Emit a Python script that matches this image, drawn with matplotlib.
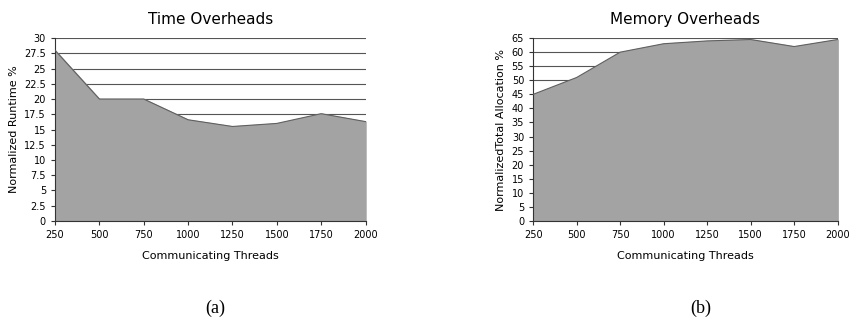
import numpy as np
import matplotlib
matplotlib.use('Agg')
import matplotlib.pyplot as plt

threads = [250, 500, 750, 1000, 1250, 1500, 1750, 2000]
runtime = [28.0, 20.0, 20.0, 16.6, 15.5, 16.0, 17.6, 16.3]
allocation = [45.0, 51.0, 60.0, 63.0, 64.0, 64.5, 62.0, 64.5]

time_ticks = np.arange(0, 30.1, 2.5)
mem_ticks = np.arange(0, 65.1, 5)

fig = plt.figure(figsize=(8.53, 3.23), dpi=100)
ax1 = fig.add_axes([0.0645, 0.316, 0.364, 0.566])
ax2 = fig.add_axes([0.625, 0.316, 0.357, 0.566])


def draw(ax, y, ticks, title, ylabel, ytop):
    for t in ticks:
        ax.axhline(t, color='#555555', lw=0.8, zorder=1)
    ax.fill_between(threads, y, 0, color='#a3a3a3', zorder=2)
    ax.plot(threads, y, color='#606060', lw=0.8, zorder=3)
    ax.set_xlim(threads[0], threads[-1])
    ax.set_ylim(0, ytop)
    ax.set_xticks(threads)
    ax.set_xticklabels([str(t) for t in threads])
    ax.set_yticks(ticks)
    ax.set_yticklabels(['%g' % t for t in ticks])
    ax.tick_params(labelsize=7, length=3, width=0.8, color='#333333')
    for s in ['top', 'right']:
        ax.spines[s].set_visible(False)
    for s in ['left', 'bottom']:
        ax.spines[s].set_color('#333333')
        ax.spines[s].set_linewidth(0.8)
    ax.set_title(title, fontsize=11, pad=10)
    ax.set_xlabel('Communicating Threads', fontsize=8, labelpad=8)
    ax.set_ylabel(ylabel, fontsize=8)


draw(ax1, runtime, time_ticks, 'Time Overheads', 'Normalized Runtime %', 30)
draw(ax2, allocation, mem_ticks, 'Memory Overheads', 'NormalizedTotal Allocation %', 65)

fig.text(0.252, 0.046, '(a)', fontsize=13, family='Liberation Serif', ha='center', va='center')
fig.text(0.821, 0.046, '(b)', fontsize=13, family='Liberation Serif', ha='center', va='center')

fig.savefig('out.png', dpi=100)
